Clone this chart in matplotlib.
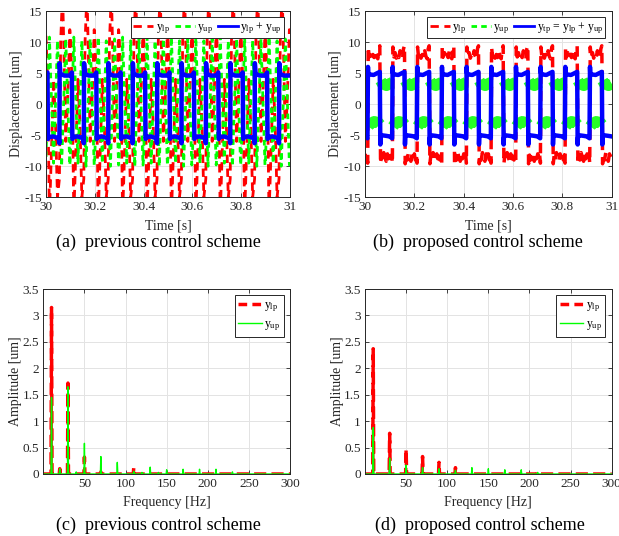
import numpy as np
import matplotlib
matplotlib.use('Agg')
import matplotlib.pyplot as plt
from matplotlib.lines import Line2D

plt.rcParams['font.family'] = ['Liberation Serif', 'DejaVu Serif']
plt.rcParams['mathtext.fontset'] = 'custom'
plt.rcParams['mathtext.rm'] = 'Liberation Serif'
plt.rcParams['mathtext.it'] = 'Liberation Serif:italic'
plt.rcParams['axes.unicode_minus'] = False

#=====================================================================
#     Data
#
# time traces: one 0.1 s period (offset [s], value [um]), repeated over 30..31 s
t0, period, nper = 30.0, 0.1, 10

a_blue_t  = [0.000, 0.006, 0.008, 0.012, 0.030, 0.052, 0.055, 0.056, 0.059, 0.075, 0.0999]
a_blue_y  = [4.6, 5.1, -5.6, -5.3, -5.2, -5.5, -6.3, 6.6, 4.9, 4.6, 4.6]
a_green_t = [0.000, 0.014, 0.031, 0.047, 0.064, 0.081, 0.0975, 0.0999]
a_green_y = [-8.5, 10.8, -9.5, 10.2, -10.0, 10.5, -9.8, -8.6]
a_red_t   = [0.000, 0.007, 0.014, 0.022, 0.031, 0.039, 0.047, 0.055, 0.060, 0.068, 0.076, 0.081, 0.089, 0.0975, 0.0999]
a_red_y   = [11, 3, -18, -8, 4, -3, -15, -12, 10, 18, 4, -6, 1, 12, 11]

b_blue_t  = [0.000, 0.010, 0.012, 0.013, 0.016, 0.035, 0.060, 0.062, 0.063, 0.066, 0.085, 0.0999]
b_blue_y  = [-5.2, -5.5, 6.0, 5.0, 4.8, 4.7, 5.2, -6.5, -5.4, -5.0, -5.1, -5.2]
b_green_t = [0.000, 0.011, 0.012, 0.013, 0.020, 0.037, 0.055, 0.061, 0.062, 0.063, 0.070, 0.087, 0.0999]
b_green_y = [3.3, 3.5, np.nan, -3.6, -3.2, -2.8, -3.0, -3.3, np.nan, 3.8, 3.3, 3.0, 3.3]
b_red_t   = [0.000, 0.004, 0.008, 0.011, 0.013, 0.017, 0.022, 0.027, 0.032, 0.037, 0.042, 0.047,
             0.052, 0.056, 0.060, 0.063, 0.067, 0.071, 0.076, 0.081, 0.086, 0.091, 0.095, 0.0999]
b_red_y   = [-8.0, -9.0, -8.2, -9.5, 9.2, 7.6, 8.3, 7.4, 8.0, 7.5, 8.6, 7.7,
             7.3, 8.9, 9.4, -9.6, -8.2, -9.0, -7.8, -8.6, -9.2, -8.0, -8.8, -8.1]

# spectra: peak frequency [Hz] and amplitude [um]
c_red_f   = [10, 20, 30, 50, 70, 110]
c_red_a   = [3.15, 0.10, 1.72, 0.32, 0.04, 0.12]
c_green_f = [10, 20, 30, 40, 50, 70, 90, 110, 120, 130, 140, 150, 170, 190, 210, 230]
c_green_a = [1.45, 0.10, 1.65, 0.04, 0.58, 0.33, 0.22, 0.05, 0.03, 0.13, 0.03, 0.08, 0.09, 0.09, 0.09, 0.04]
d_red_f   = [10, 30, 50, 70, 90, 110, 210]
d_red_a   = [2.37, 0.77, 0.47, 0.33, 0.22, 0.12, 0.03]
d_green_f = [10, 30, 50, 70, 90, 110, 130, 150, 170, 190, 210]
d_green_a = [0.88, 0.30, 0.17, 0.12, 0.10, 0.07, 0.12, 0.10, 0.08, 0.08, 0.03]

time_ticks = [30, 30.2, 30.4, 30.6, 30.8, 31]
time_labels = ['30', '30.2', '30.4', '30.6', '30.8', '31']
disp_ticks = [-15, -10, -5, 0, 5, 10, 15]
freq_ticks = [50, 100, 150, 200, 250, 300]
amp_ticks = [0, 0.5, 1, 1.5, 2, 2.5, 3, 3.5]
amp_labels = ['0', '0.5', '1', '1.5', '2', '2.5', '3', '3.5']
#=====================================================================

RED, GREEN, BLUE = '#ff0000', '#00ff00', '#0000ff'
INK = '#262626'


def tile(offs, vals):
    t = np.concatenate([np.asarray(offs) + t0 + k * period for k in range(nper)])
    return t, np.tile(np.asarray(vals, dtype=float), nper)


def spikes(f, a, fmax=300, w=0.6):
    xs, ys = [0], [0]
    for fi, ai in zip(f, a):
        xs += [fi - w, fi, fi + w]
        ys += [0, ai, 0]
    return xs + [fmax], ys + [0]


def style(ax):
    ax.grid(True, color='#e3e3e3', lw=0.7)
    ax.set_axisbelow(True)
    ax.tick_params(direction='in', top=True, right=True, length=3, width=0.6,
                   labelsize=9.5, colors=INK, pad=3)
    for s in ax.spines.values():
        s.set_color(INK)
        s.set_linewidth(0.7)


def legend(ax, handles, labels, **kw):
    lg = ax.legend(handles, labels, loc='upper right', fontsize=8.5, fancybox=False,
                   framealpha=1, edgecolor=INK, borderaxespad=0.55, **kw)
    lg.get_frame().set_linewidth(0.7)
    return lg


fig = plt.figure(figsize=(6.19, 5.36), dpi=100)
W, H = 619., 536.
ax_a = fig.add_axes([46 / W, 1 - 197.3 / H, 244 / W, 186.3 / H])
ax_b = fig.add_axes([365 / W, 1 - 197.3 / H, 246.7 / W, 186.3 / H])
ax_c = fig.add_axes([43.3 / W, 1 - 474 / H, 246.7 / W, 185 / H])
ax_d = fig.add_axes([365 / W, 1 - 474 / H, 246.7 / W, 185 / H])

red_ls = (0, (3, 2))
green_ls = (0, (2, 1.5))

# (a) previous control scheme, time domain
ax_a.plot(*tile(a_red_t, a_red_y), color=RED, lw=2, ls=red_ls)
ax_a.plot(*tile(a_green_t, a_green_y), color=GREEN, lw=2, ls=green_ls)
ax_a.plot(*tile(a_blue_t, a_blue_y), color=BLUE, lw=3.2)

# (b) proposed control scheme, time domain
ax_b.plot(*tile(b_red_t, b_red_y), color=RED, lw=2.5, ls=red_ls)
ax_b.plot(*tile(b_green_t, b_green_y), color=GREEN, lw=8, alpha=0.85,
          solid_capstyle='butt')
ax_b.plot(*tile(b_blue_t, b_blue_y), color=BLUE, lw=3.2)

for ax in (ax_a, ax_b):
    style(ax)
    ax.set_xlim(30, 31)
    ax.set_ylim(-15, 15)
    ax.set_xticks(time_ticks)
    ax.set_xticklabels(time_labels)
    ax.set_yticks(disp_ticks)
    ax.set_xlabel('Time [s]', fontsize=10, color=INK, labelpad=4)
    ax.set_ylabel('Displacement [um]', fontsize=10, color=INK, labelpad=0.5)

h_red = Line2D([], [], color=RED, lw=2, ls=red_ls)
h_green = Line2D([], [], color=GREEN, lw=2, ls=green_ls)
h_blue = Line2D([], [], color=BLUE, lw=2)
leg_kw = dict(ncol=3, handlelength=1.7, handletextpad=0.2, columnspacing=0.4,
              borderpad=0.2)
legend(ax_a, [h_red, h_green, h_blue],
       [r'y$_{\rm lp}$', r'y$_{\rm up}$', r'y$_{\rm lp}$ + y$_{\rm up}$'], **leg_kw)
legend(ax_b, [h_red, h_green, h_blue],
       [r'y$_{\rm lp}$', r'y$_{\rm up}$', r'y$_{\rm tp}$ = y$_{\rm lp}$ + y$_{\rm up}$'], **leg_kw)

# (c), (d) spectra
spec_red_ls = (0, (3.5, 1.5))
for ax, rf, ra, gf, ga in ((ax_c, c_red_f, c_red_a, c_green_f, c_green_a),
                           (ax_d, d_red_f, d_red_a, d_green_f, d_green_a)):
    ax.plot(*spikes(rf, ra), color=RED, lw=2.5, ls=spec_red_ls)
    ax.plot(*spikes(gf, ga), color=GREEN, lw=1)
    style(ax)
    ax.set_xlim(0, 300)
    ax.set_ylim(0, 3.5)
    ax.set_xticks(freq_ticks)
    ax.set_yticks(amp_ticks)
    ax.set_yticklabels(amp_labels)
    ax.set_xlabel('Frequency [Hz]', fontsize=10, color=INK, labelpad=4)
    ax.set_ylabel('Amplitude [um]', fontsize=10, color=INK, labelpad=0.5)
    legend(ax, [Line2D([], [], color=RED, lw=2.5, ls=(0, (2.5, 1.5))),
                Line2D([], [], color=GREEN, lw=1)],
           [r'y$_{\rm lp}$', r'y$_{\rm up}$'],
           handlelength=2.0, handletextpad=0.2, borderpad=0.3, labelspacing=0.4)

# captions
cap = dict(ha='center', va='center', fontsize=13, color='black')
fig.text(158 / W, 1 - 242 / H, '(a)  previous control scheme', **cap)
fig.text(478 / W, 1 - 242 / H, '(b)  proposed control scheme', **cap)
fig.text(158 / W, 1 - 525 / H, '(c)  previous control scheme', **cap)
fig.text(480 / W, 1 - 525 / H, '(d)  proposed control scheme', **cap)

fig.savefig('out.png', dpi=100)
